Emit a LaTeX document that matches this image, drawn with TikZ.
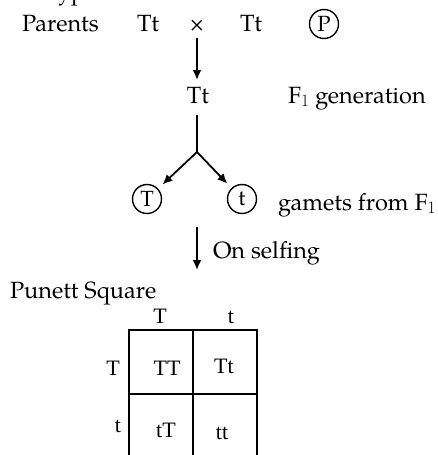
\documentclass[tikz,border=0pt]{standalone}
\usepackage{fontspec}
\setmainfont{TeX Gyre Pagella}
\newfontfamily\gridfont{Liberation Serif}
\usetikzlibrary{arrows.meta}
\tikzset{
  txt/.style={inner sep=0pt, outer sep=0pt, font=\fontsize{23.5}{28}\selectfont},
  gtxt/.style={inner sep=0pt, outer sep=0pt, font=\gridfont\fontsize{22}{26}\selectfont},
  ring/.style={circle, draw, line width=1.4pt, minimum size=29pt, inner sep=0pt,
    font=\fontsize{22}{26}\selectfont},
  arr/.style={line width=1.8pt, -{Latex[length=10pt,width=9pt]}},
  bar/.style={line width=1.8pt},
  gridline/.style={line width=2.6pt},
}
\begin{document}
\begin{tikzpicture}[x=1pt, y=-1pt]
\useasboundingbox (0,0) rectangle (438,455);
% heading line above, only its descenders fall inside the page
\begin{scope}
  \clip (0,0) rectangle (438,455);
  \node[txt, anchor=base west] (head) at (58,-1) {yp};
\end{scope}
% parental cross
\node[txt, anchor=base west] (parents) at (22,31) {Parents};
\node[txt, anchor=base west] (p1) at (137,31) {Tt};
\node[txt, anchor=base] (cross) at (197,31) {×};
\node[txt, anchor=base west] (p2) at (240,31) {Tt};
\node[ring] (P) at (324,24) {P};
% F1
\coordinate (a1s) at (197,38);
\coordinate (a1e) at (197,80);
\draw[arr] (a1s) -- (a1e);
\node[txt, anchor=base] (f1) at (198,103) {Tt};
\node[txt, anchor=base west] (f1lab) at (288,103) {F$_1$ generation};
% gametes
\coordinate (b1s) at (197,115);
\coordinate (apex) at (197,152);
\draw[bar] (b1s) -- (apex);
\node[ring] (gT) at (147,199) {T};
\node[ring] (gt) at (242,199) {t};
\draw[arr, shorten >=6pt] (apex) -- (gT);
\draw[arr, shorten >=6pt] (apex) -- (gt);
\node[txt, anchor=base west] (gamlab) at (278,210) {gamets from F$_1$};
% selfing
\coordinate (s1) at (197,227);
\coordinate (s2) at (197,270);
\draw[arr] (s1) -- (s2);
\node[txt, anchor=base west] (self) at (213,258) {On selfing};
% Punnett square
\node[txt, anchor=base west] (punett) at (10,298) {Punett Square};
\node[gtxt, anchor=base] (cT) at (160,323) {T};
\node[gtxt, anchor=base] (ct) at (231,323) {t};
\node[gtxt, anchor=base] (rT) at (113,375) {T};
\node[gtxt, anchor=base] (rt) at (118,432) {t};
\coordinate (g00) at (129,330);
\coordinate (g10) at (193,330);
\coordinate (g20) at (257,330);
\coordinate (g01) at (129,394);
\coordinate (g21) at (257,394);
\coordinate (g02) at (129,460);
\coordinate (g12) at (193,460);
\coordinate (g22) at (257,460);
\draw[line width=2pt] ([xshift=-1.3pt]g00) -- ([xshift=1.3pt]g20);
\draw[gridline] (g00) -- (g02);
\draw[gridline] (g10) -- (g12);
\draw[gridline] (g20) -- (g22);
\draw[gridline] (g01) -- (g21);
\node[gtxt, anchor=base] (cTT) at (167,375) {TT};
\node[gtxt, anchor=base] (cTt) at (224,373) {Tt};
\node[gtxt, anchor=base] (ctT) at (166,437) {tT};
\node[gtxt, anchor=base] (ctt) at (222,439) {tt};
\end{tikzpicture}
\end{document}
